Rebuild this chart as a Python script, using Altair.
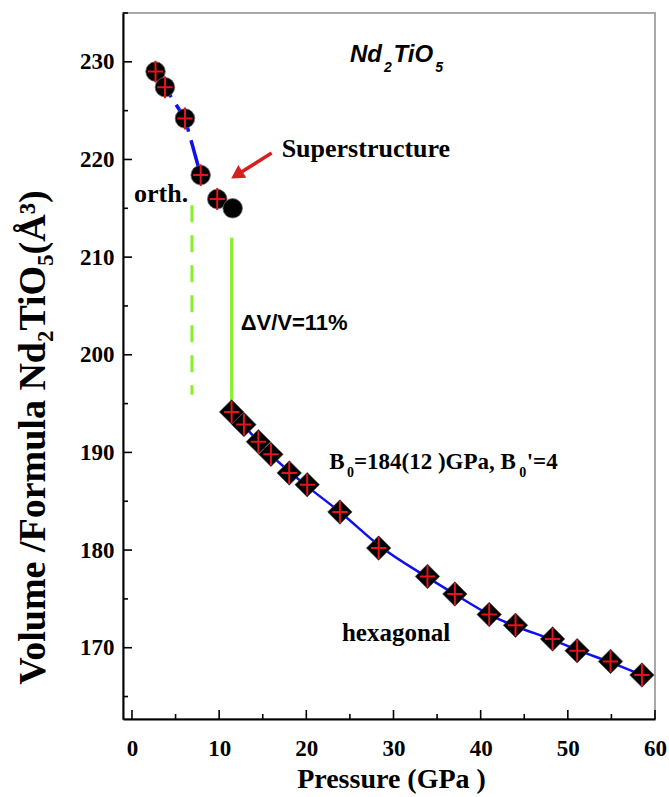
import altair as alt
import pandas as pd

# ---------------- data ----------------
orth_p = [2.7, 3.78, 6.08, 7.88, 9.78, 11.55]
orth_v = [229.0, 227.4, 224.2, 218.4, 215.95, 215.0]

hex_p = [11.43, 12.84, 14.5, 15.94, 18.04, 20.1, 23.85, 28.3, 33.9, 37.04,
         40.98, 44.0, 48.25, 51.07, 54.9, 58.5]
hex_v = [194.15, 192.85, 191.1, 189.8, 187.9, 186.7, 183.9, 180.2, 177.3, 175.5,
         173.4, 172.3, 170.9, 169.7, 168.6, 167.2]

# dashed guide through the orthorhombic points
orth_line_p = [2.7, 3.78, 6.08, 7.88]
orth_line_v = [229.0, 227.4, 224.2, 218.4]

# Birch-Murnaghan fit curve
fit_p = [12.8, 16.0, 20.0, 24.0, 28.3, 33.9, 37.0, 41.0, 44.0, 48.3, 51.0, 54.9, 58.5]
fit_v = [192.8, 189.7, 186.6, 183.8, 180.5, 177.2, 175.5, 173.4, 172.2, 170.8, 169.8, 168.5, 167.2]

# green transition markers
dash_green_p = [6.88, 6.88]
dash_green_v = [215.3, 195.9]
solid_green_p = [11.43, 11.43]
solid_green_v = [212.0, 194.6]

# arrow pointing to the superstructure point
arrow_p = [16.02, 12.02]
arrow_v = [220.66, 218.42]

x_major = [0, 10, 20, 30, 40, 50, 60]
x_minor = [5, 15, 25, 35, 45, 55]
y_major = [170, 180, 190, 200, 210, 220, 230]
y_minor = [165, 175, 185, 195, 205, 215, 225, 235]

W, H = 532, 706
XDOM = [-1.03, 60]
YDOM = [162.7, 235.0]

xs = alt.Scale(domain=XDOM, nice=False, zero=False)
ys = alt.Scale(domain=YDOM, nice=False, zero=False)

SERIF = "Liberation Serif"
SANS = "Liberation Sans"

orth_df = pd.DataFrame({"p": orth_p, "v": orth_v})
hex_df = pd.DataFrame({"p": hex_p, "v": hex_v})
cross_df = pd.DataFrame({"p": orth_p[:5] + hex_p, "v": orth_v[:5] + hex_v})

# ---------------- axes (identical in every layer) ----------------
x_axis = alt.Axis(values=x_major, ticks=False, grid=False, domainColor="black",
                  domainWidth=2, labelFont=SERIF, labelFontWeight="bold",
                  labelFontSize=23, labelColor="black", labelPadding=18,
                  labelFlush=False, labelOverlap=False,
                  title="Pressure (GPa )", titleFont=SERIF, titleFontWeight="bold",
                  titleFontSize=28, titleColor="black", titleBaseline="alphabetic",
                  titleY=68, titleX=W / 2 + 2)
y_axis = alt.Axis(values=y_major, ticks=False, grid=False, domainColor="black",
                  domainWidth=2, labelFont=SERIF, labelFontWeight="bold",
                  labelFontSize=23, labelColor="black", labelPadding=9,
                  labelFlush=False, labelOverlap=False,
                  title="Volume /Formula Nd₂TiO₅(Å³)", titleFont=SERIF,
                  titleFontWeight="bold", titleFontSize=38, titleColor="black",
                  titleAngle=270, titleAlign="center", titleBaseline="middle",
                  titleX=-90, titleY=424)

def xq(field):
    return alt.X(f"{field}:Q", scale=xs, axis=x_axis)

def yq(field):
    return alt.Y(f"{field}:Q", scale=ys, axis=y_axis)

# ---------------- lines ----------------
orth_line = alt.Chart(pd.DataFrame({"p": orth_line_p, "v": orth_line_v})).mark_line(
    color="#1010ee", strokeWidth=3.5, strokeDash=[30, 9]
).encode(x=xq("p"), y=yq("v"))

fit_line = alt.Chart(pd.DataFrame({"p": fit_p, "v": fit_v})).mark_line(
    color="#1010ee", strokeWidth=2.5, interpolate="monotone"
).encode(x=xq("p"), y=yq("v"))

green_dash = alt.Chart(pd.DataFrame({"p": dash_green_p, "v": dash_green_v})).mark_line(
    color="#86f02a", strokeWidth=3, strokeDash=[17, 13]
).encode(x=xq("p"), y=yq("v"))

green_solid = alt.Chart(pd.DataFrame({"p": solid_green_p, "v": solid_green_v})).mark_line(
    color="#86f02a", strokeWidth=3
).encode(x=xq("p"), y=yq("v"))

# ---------------- markers ----------------
circles = alt.Chart(orth_df).mark_point(
    shape="circle", filled=True, fill="black", stroke="#666666", strokeWidth=0.8,
    size=380, opacity=1
).encode(x=xq("p"), y=yq("v"))

diamonds = alt.Chart(hex_df).mark_point(
    shape="diamond", filled=True, fill="black", stroke="#444444", strokeWidth=0.6,
    size=600, opacity=1
).encode(x=xq("p"), y=yq("v"))

crosses = alt.Chart(cross_df).mark_point(
    shape="M0,-1L0,1M-0.7,0L0.7,0", filled=False, stroke="#e3141b", strokeWidth=2,
    size=480, opacity=1
).encode(x=xq("p"), y=yq("v"))

# ---------------- arrow ----------------
arrow_df = pd.DataFrame({"p": [arrow_p[0]], "v": [arrow_v[0]],
                         "p2": [arrow_p[1]], "v2": [arrow_v[1]]})
arrow_shaft = alt.Chart(arrow_df).mark_rule(color="#d42020", strokeWidth=3.5).encode(
    x=xq("p"), y=yq("v"), x2="p2:Q", y2="v2:Q")
arrow_head = alt.Chart(pd.DataFrame({"p": [arrow_p[1]], "v": [arrow_v[1]]})).mark_point(
    shape="triangle-up", filled=True, color="#d42020", size=230, angle=238, opacity=1
).encode(x=xq("p"), y=yq("v"))

# ---------------- axis ticks (drawn inward) ----------------
def xticks(vals, ln):
    return alt.Chart(pd.DataFrame({"t": vals})).mark_rule(color="black", strokeWidth=1.6).encode(
        x=alt.X("t:Q", scale=xs, axis=x_axis), y=alt.value(H), y2=alt.value(H - ln))

def yticks(vals, ln):
    return alt.Chart(pd.DataFrame({"t": vals})).mark_rule(color="black", strokeWidth=1.6).encode(
        y=alt.Y("t:Q", scale=ys, axis=y_axis), x=alt.value(0), x2=alt.value(ln))

# ---------------- texts ----------------
def label(x, y, txt, font, size, style="normal", color="black"):
    return alt.Chart(pd.DataFrame({"p": [x], "v": [y], "t": [txt]})).mark_text(
        align="left", baseline="alphabetic", font=font, fontSize=size,
        fontWeight="bold", fontStyle=style, color=color
    ).encode(x=xq("p"), y=yq("v"), text="t:N")

texts = [
    label(25.0, 230.0, "Nd", SANS, 24, "italic"),
    label(28.9, 229.0, "2", SANS, 14, "italic"),
    label(30.0, 230.0, "TiO", SANS, 24, "italic"),
    label(34.8, 229.0, "5", SANS, 14, "italic"),
    label(17.17, 220.28, "Superstructure", SERIF, 26),
    label(0.23, 215.67, "orth.", SERIF, 26),
    label(12.47, 202.53, "ΔV/V=11%", SANS, 22),
    label(22.63, 188.27, "B", SERIF, 23),
    label(24.66, 187.51, "0", SERIF, 14),
    label(25.46, 188.27, "=184(12 )GPa, B", SERIF, 23),
    label(44.43, 187.51, "0", SERIF, 14),
    label(45.28, 188.27, "'=4", SERIF, 23),
    label(24.08, 170.69, "hexagonal", SERIF, 25),
]

chart = alt.layer(
    orth_line, fit_line, green_dash, green_solid,
    xticks(x_major, 9), xticks(x_minor, 5), yticks(y_major, 9), yticks(y_minor, 5),
    circles, diamonds, crosses, arrow_shaft, arrow_head, *texts
).properties(
    width=W, height=H,
    autosize=alt.AutoSizeParams(type="none"),
    padding={"left": 123, "top": 13, "right": 14, "bottom": 78},
    background="white"
).configure_view(stroke="#a8a8a8", strokeWidth=2)

chart.save("out.html", embed_options={"renderer": "svg", "actions": False})
